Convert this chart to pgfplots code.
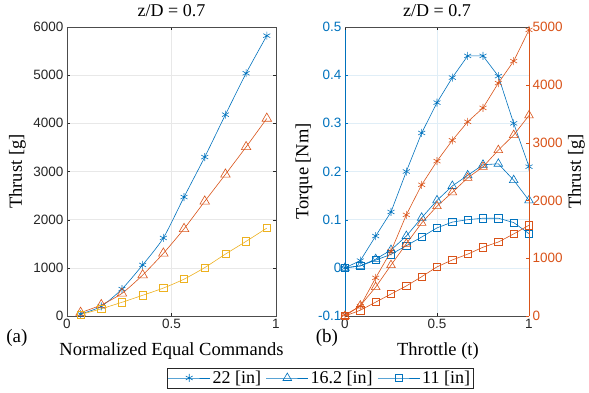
\documentclass[border=0pt]{standalone}
\usepackage{fontspec}
\setmainfont{Liberation Serif}
\setsansfont{Liberation Sans}
\usepackage{pgfplots}
\pgfplotsset{compat=1.18}
\definecolor{mblue}{rgb}{0,0.447,0.741}
\definecolor{morange}{rgb}{0.85,0.325,0.098}
\definecolor{myellow}{rgb}{0.929,0.694,0.125}
\definecolor{axgray}{rgb}{0.15,0.15,0.15}
\pgfplotsset{
 mystyle/.style={
  scale only axis,
  anchor=south west,
  clip=false,
  /pgf/number format/assume math mode=true,
  /pgf/number format/1000 sep={},
  tick label style={font=\sffamily\fontsize{13.5}{15}\selectfont, text=axgray},
  label style={font=\fontsize{18.5}{21}\selectfont},
  title style={font=\fontsize{18}{21}\selectfont},
  tick align=inside,
  major tick length=3pt,
  xmin=0,xmax=1,
  xtick={0,0.5,1},
  every axis plot/.append style={line width=0.6pt, mark options={solid, line width=0.6pt}},
 },
 ast/.style={mark=asterisk, mark size=4pt},
 tri/.style={mark=triangle, mark size=5.5pt},
 sq/.style={mark=square, mark size=3.6pt},
}
\begin{document}
\begin{tikzpicture}
\useasboundingbox (0,0) rectangle (589pt,392pt);
% ---------- (a) ----------
\begin{axis}[mystyle, at={(67pt,76pt)}, width=209pt, height=289pt,
  xticklabels={0,0.5,1},
  ymin=0, ymax=6000, ytick={0,1000,2000,3000,4000,5000,6000},
  grid=major, grid style={gray!18}, axis line style={gray!60!black}, tick style={axgray},
  xlabel={Normalized Equal Commands}, ylabel={Thrust [g]},
  xlabel style={at={(axis description cs:0.5,-0.138)}, anchor=base},
  ylabel style={at={(axis description cs:-0.237,0.5)}, anchor=center, rotate=0},
  title={z/D = 0.7}, title style={at={(axis description cs:0.5,1.014)}, anchor=base},
  ]
\addplot[mblue, ast, smooth, tension=0.4] coordinates {
 (0.065,40) (0.164,200) (0.263,560) (0.362,1060) (0.461,1620) (0.56,2470) (0.659,3300) (0.758,4180) (0.857,5040) (0.956,5820)};
\addplot[morange, tri, smooth, tension=0.4] coordinates {
 (0.065,70) (0.164,230) (0.263,470) (0.362,850) (0.461,1300) (0.56,1810) (0.659,2380) (0.758,2940) (0.857,3510) (0.956,4100)};
\addplot[myellow, sq, smooth, tension=0.4] coordinates {
 (0.065,30) (0.164,150) (0.263,285) (0.362,430) (0.461,580) (0.56,765) (0.659,1005) (0.758,1285) (0.857,1550) (0.956,1825)};
\node[font=\fontsize{19}{21}\selectfont, anchor=base] at (axis description cs:-0.24,-0.093) {(a)};
\end{axis}
% ---------- (b) torque ----------
\begin{axis}[mystyle, at={(345pt,76pt)}, width=184pt, height=289pt,
  xticklabels={0,0.5,1},
  ymin=-0.1, ymax=0.5, ytick={-0.1,0,0.1,0.2,0.3,0.4,0.5},
  yticklabels={-0.1,0,0.1,0.2,0.3,0.4,0.5},
  axis y line*=left, axis x line*=bottom, axis line style={-},
  x axis line style={gray!60!black}, y axis line style={mblue},
  xtick style={axgray}, ytick style={mblue},
  yticklabel style={text=mblue},
  grid=major, grid style={mblue!12},
  xlabel={Throttle (t)}, ylabel={Torque [Nm]},
  xlabel style={at={(axis description cs:0.505,-0.138)}, anchor=base},
  ylabel style={at={(axis description cs:-0.223,0.5)}, anchor=center, rotate=0},
  title={z/D = 0.7}, title style={at={(axis description cs:0.5,1.014)}, anchor=base},
  legend columns=3,
  legend style={at={(axis description cs:-0.136,-0.2145)}, anchor=center,
    draw=axgray, fill=white, font=\fontsize{18}{20}\selectfont,
    inner sep=1pt, /tikz/every even column/.append style={column sep=3pt}},
  legend image code/.code={\draw[mark repeat=2,mark phase=2,#1] plot coordinates {(0pt,0pt) (21pt,0pt) (42pt,0pt)};},
  ]
\addplot[mblue, ast] coordinates {
 (0,0) (0.0833,0.015) (0.1667,0.066) (0.25,0.116) (0.3333,0.2) (0.4167,0.28) (0.5,0.343) (0.5833,0.395) (0.6667,0.44) (0.75,0.44) (0.8333,0.398) (0.9167,0.3) (1,0.21)};
\addlegendentry{22 [in]}
\addplot[mblue, tri, mark size=5pt] coordinates {
 (0,0) (0.0833,0.004) (0.1667,0.018) (0.25,0.037) (0.3333,0.066) (0.4167,0.104) (0.5,0.14) (0.5833,0.17) (0.6667,0.192) (0.75,0.214) (0.8333,0.216) (0.9167,0.182) (1,0.14)};
\addlegendentry{16.2 [in]}
\addplot[mblue, sq] coordinates {
 (0,0) (0.0833,0.004) (0.1667,0.016) (0.25,0.028) (0.3333,0.046) (0.4167,0.064) (0.5,0.083) (0.5833,0.095) (0.6667,0.1) (0.75,0.103) (0.8333,0.103) (0.9167,0.094) (1,0.071)};
\addlegendentry{11 [in]}
\node[font=\fontsize{19}{21}\selectfont, anchor=base] at (axis description cs:-0.098,-0.093) {(b)};
\end{axis}
% ---------- (b) thrust ----------
\begin{axis}[mystyle, at={(345pt,76pt)}, width=184pt, height=289pt,
  xticklabels={{},{},{}},
  ymin=0, ymax=5000, ytick={0,1000,2000,3000,4000,5000},
  axis y line*=right, axis x line*=top, axis line style={-},
  x axis line style={gray!60!black}, y axis line style={morange},
  xtick style={axgray}, ytick style={morange},
  yticklabel style={text=morange},
  ylabel={Thrust [g]},
  ylabel style={at={(axis description cs:1.258,0.5)}, anchor=center, rotate=0, inner sep=1pt},
  ]
\addplot[morange, ast] coordinates {
 (0,20) (0.0833,170) (0.1667,660) (0.25,1120) (0.3333,1750) (0.4167,2270) (0.5,2680) (0.5833,3040) (0.6667,3360) (0.75,3600) (0.8333,4030) (0.9167,4410) (1,4950)};
\addplot[morange, tri, mark size=5pt] coordinates {
 (0,0) (0.0833,180) (0.1667,500) (0.25,880) (0.3333,1250) (0.4167,1610) (0.5,1900) (0.5833,2140) (0.6667,2390) (0.75,2580) (0.8333,2870) (0.9167,3130) (1,3470)};
\addplot[morange, sq] coordinates {
 (0,0) (0.0833,100) (0.1667,240) (0.25,380) (0.3333,520) (0.4167,680) (0.5,850) (0.5833,970) (0.6667,1070) (0.75,1190) (0.8333,1280) (0.9167,1420) (1,1570)};
\end{axis}
\end{tikzpicture}
\end{document}
